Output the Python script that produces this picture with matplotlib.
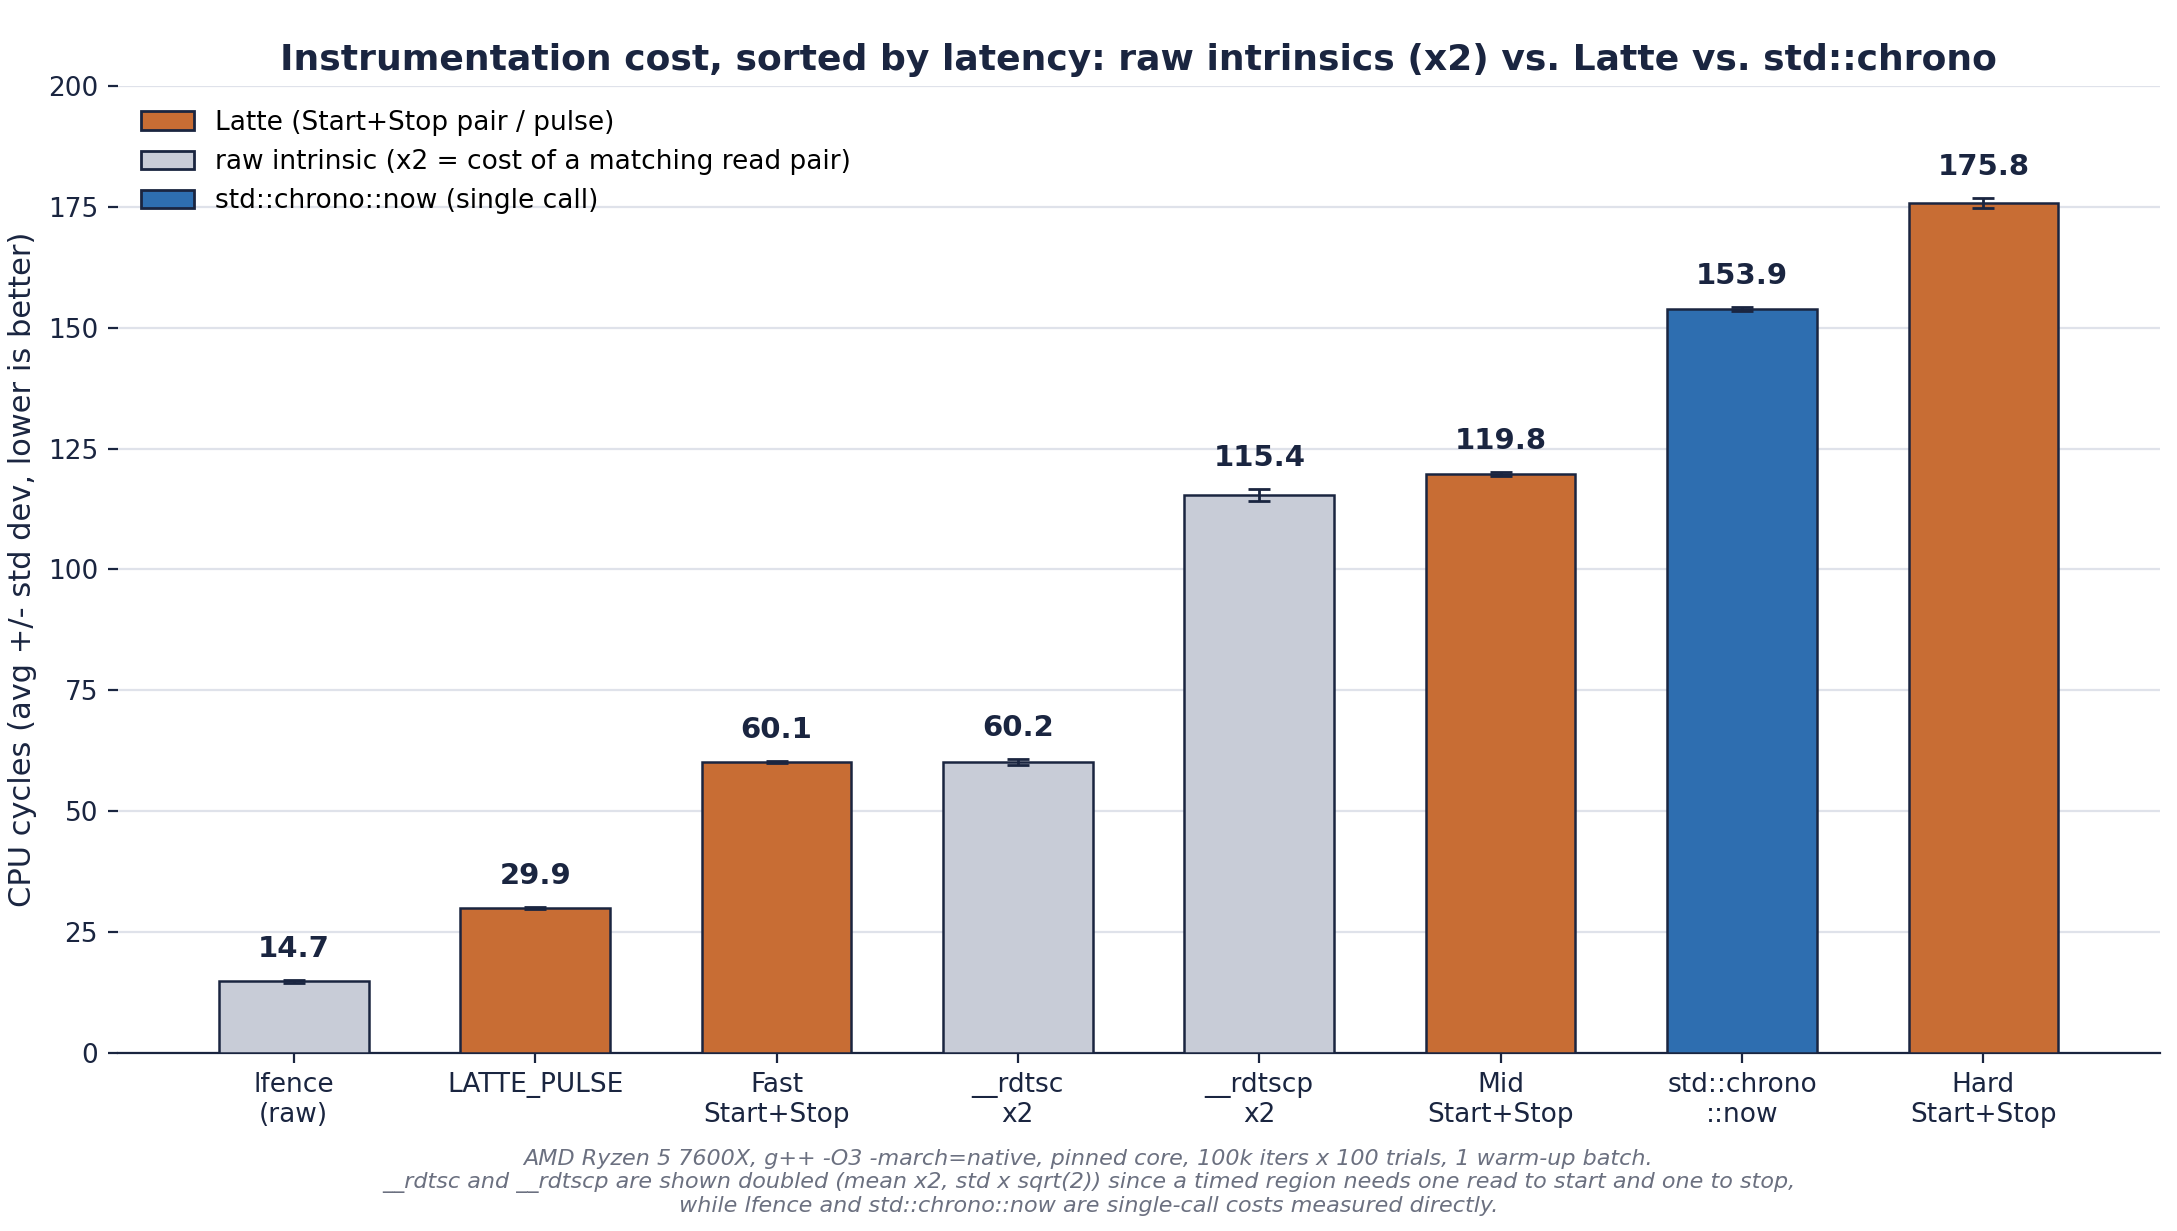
import matplotlib
matplotlib.use("Agg")
import matplotlib.pyplot as plt
from matplotlib.patches import Patch

labels = ["lfence\n(raw)", "LATTE_PULSE", "Fast\nStart+Stop", "__rdtsc\nx2", "__rdtscp\nx2", "Mid\nStart+Stop", "std::chrono\n::now", "Hard\nStart+Stop"]
values = [14.7, 29.9, 60.1, 60.2, 115.4, 119.8, 153.9, 175.8]
errors = [0.3, 0.2, 0.2, 0.6, 1.3, 0.4, 0.4, 1.0]
kinds = ["raw", "latte", "latte", "raw", "raw", "latte", "chrono", "latte"]

colors = {"latte": "#c86d34", "raw": "#c8ccd7", "chrono": "#2e6eb0"}
navy = "#1a2540"

fig, ax = plt.subplots(figsize=(10.885, 6.155), dpi=200)
x = range(len(values))
ax.bar(x, values, width=0.62, color=[colors[k] for k in kinds], edgecolor=navy, linewidth=0.9, zorder=3)
ax.errorbar(x, values, yerr=errors, fmt="none", ecolor=navy, elinewidth=1, capsize=4, zorder=4)
for xi, v, e in zip(x, values, errors):
    ax.text(xi, v + e + 3.5, f"{v:.1f}", ha="center", va="bottom", fontsize=10.5, fontweight="bold", color=navy)

ax.set_xticks(list(x))
ax.set_xticklabels(labels, fontsize=9.5, color=navy)
ax.set_ylim(0, 200)
ax.set_yticks(range(0, 201, 25))
ax.tick_params(axis="y", labelsize=9.5, colors=navy)
ax.tick_params(axis="x", colors=navy)
ax.set_xlim(-0.73, 7.73)
ax.set_ylabel("CPU cycles (avg +/- std dev, lower is better)", fontsize=11, color=navy)
ax.set_title("Instrumentation cost, sorted by latency: raw intrinsics (x2) vs. Latte vs. std::chrono",
             fontsize=13, fontweight="bold", color=navy)
ax.grid(axis="y", color="#dfe2ea", linewidth=0.8, zorder=0)
for s in ["top", "right", "left"]:
    ax.spines[s].set_visible(False)
ax.spines["bottom"].set_color(navy)

handles = [Patch(facecolor=colors["latte"], edgecolor=navy, label="Latte (Start+Stop pair / pulse)"),
           Patch(facecolor=colors["raw"], edgecolor=navy, label="raw intrinsic (x2 = cost of a matching read pair)"),
           Patch(facecolor=colors["chrono"], edgecolor=navy, label="std::chrono::now (single call)")]
ax.legend(handles=handles, loc="upper left", frameon=False, fontsize=9.5)

fig.text(0.5, 0.012,
         "AMD Ryzen 5 7600X, g++ -O3 -march=native, pinned core, 100k iters x 100 trials, 1 warm-up batch.\n"
         "__rdtsc and __rdtscp are shown doubled (mean x2, std x sqrt(2)) since a timed region needs one read to start and one to stop,\n"
         "while lfence and std::chrono::now are single-call costs measured directly.",
         ha="center", va="bottom", fontsize=8, style="italic", color="#6b7080")
fig.subplots_adjust(left=0.054, right=0.992, top=0.93, bottom=0.145)
fig.savefig("out.png", dpi=200)
